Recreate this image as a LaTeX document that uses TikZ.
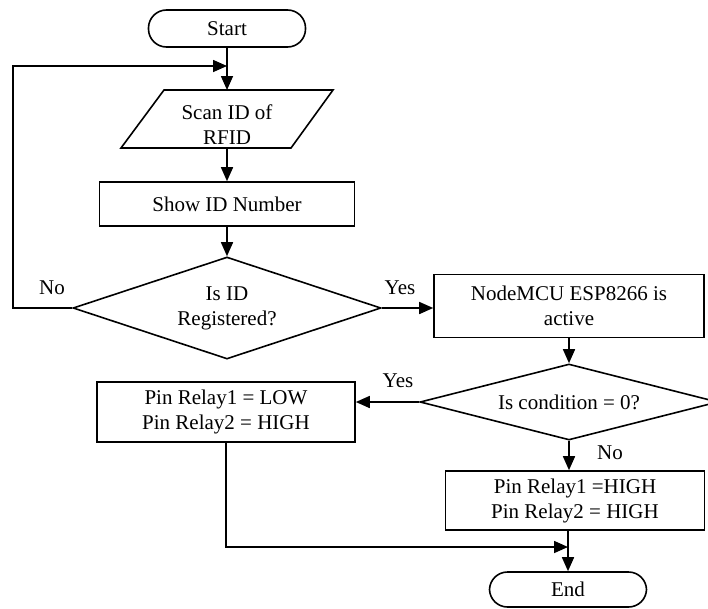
\documentclass[tikz,border=0pt]{standalone}
\usepackage{fontspec}
\setmainfont{Liberation Serif}
\usetikzlibrary{shapes.geometric,arrows.meta}
\begin{document}
\begin{tikzpicture}[x=1pt,y=-1pt,
  every node/.style={font=\fontsize{21}{25}\selectfont, align=center},
  line/.style={line width=1.6pt},
  arr/.style={line width=1.6pt,-{Triangle[length=14pt,width=12pt]}},
  box/.style={draw,line width=1.6pt,rectangle,inner sep=0pt},
  term/.style={draw,line width=1.6pt,rectangle,rounded corners=18pt,minimum width=157pt,inner sep=0pt},
  dec/.style={draw,line width=1.6pt,diamond,inner sep=0pt,shape aspect=3},
  lbl/.style={inner sep=0pt}]
\useasboundingbox[fill=white] (0,0) rectangle (708,608);

% shapes
\node[term,minimum height=37pt] (start) at (227,28.5) {Start};
\draw[line] (164,90) -- (333,90) -- (291,148) -- (121,148) -- cycle;
\node[lbl] (scan) at (227,125) {Scan ID of\\RFID};
\coordinate (scantop) at (227,90);
\coordinate (scanbot) at (227,148);
\node[box,minimum width=255pt,minimum height=44pt] (show) at (227,204) {Show ID Number};
\node[dec,minimum width=308pt,minimum height=102pt] (reg) at (227,308) {Is ID\\Registered?};
\node[box,minimum width=270pt,minimum height=63pt] (active) at (569,306) {NodeMCU ESP8266 is\\active};
\node[dec,minimum width=298pt,minimum height=76pt] (cond) at (569,402) {Is condition = 0?};
\node[box,minimum width=258pt,minimum height=60pt] (low) at (226,412) {Pin Relay1 = LOW\\Pin Relay2 = HIGH};
\node[box,minimum width=259pt,minimum height=59pt] (high) at (575,500.5) {Pin Relay1 =HIGH\\Pin Relay2 = HIGH};
\node[term,minimum height=35pt] (end) at (568,589.5) {End};

% labels
\node[lbl] (no1) at (52,288) {No};
\node[lbl] (yes1) at (400,288) {Yes};
\node[lbl] (yes2) at (398,381) {Yes};
\node[lbl] (no2) at (610,453) {No};

% connectors
\coordinate (loopin) at (227,66);
\coordinate (merge) at (568,547);
\draw[arr] (start.south) -- (scantop);
\draw[arr] (reg.west) -- ++(-59,0) |- (loopin);
\draw[arr] (scanbot) -- (show.north);
\draw[arr] (show.south) -- (reg.north);
\draw[arr] (reg.east) -- (reg.east -| active.west);
\draw[arr] (active.south) -- (cond.north);
\draw[arr] (cond.west) -- (cond.west -| low.east);
\draw[arr] (cond.south) -- (cond.south |- high.north);
\draw[arr] (end.north |- high.south) -- (end.north);
\draw[arr] (low.south) |- (merge);
\end{tikzpicture}
\end{document}
